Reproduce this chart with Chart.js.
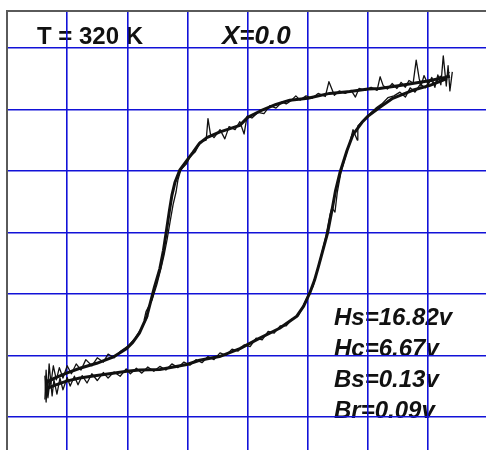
<!DOCTYPE html>
<html>
<head>
<meta charset="utf-8">
<script src="https://cdn.jsdelivr.net/npm/chart.js@4.4.1/dist/chart.umd.min.js"></script>
<style>
  html, body { margin: 0; padding: 0; background: #fff; }
  #wrap { width: 486px; height: 450px; position: relative; }
</style>
</head>
<body>
<div id="wrap"><canvas id="loop"></canvas></div>
<script>
// field H (x) and induction B (y), in screen divisions
const upperH = [3.36, 3.28, 2.99, 2.53, 2.19, 2.00, 1.70, 1.36, 1.00, 0.70, 0.47, 0.20, 0.00, -0.13, -0.47, -0.68, -0.80, -0.91, -1.01, -1.13, -1.21, -1.26, -1.30, -1.35, -1.40, -1.46, -1.55, -1.63, -1.68, -1.80, -1.91, -2.01, -2.24, -2.51, -2.79, -3.01, -3.21, -3.34];
const upperB = [2.54, 2.52, 2.46, 2.39, 2.34, 2.33, 2.29, 2.26, 2.18, 2.15, 2.08, 1.97, 1.87, 1.74, 1.63, 1.54, 1.45, 1.30, 1.17, 1.01, 0.81, 0.60, 0.36, 0.03, -0.29, -0.59, -0.89, -1.19, -1.38, -1.64, -1.79, -1.89, -2.03, -2.13, -2.21, -2.29, -2.37, -2.44];

const lowerH = [-3.34, -3.21, -3.01, -2.79, -2.51, -2.24, -2.01, -1.80, -1.46, -1.01, -0.80, -0.47, -0.13, 0.20, 0.53, 0.81, 0.93, 1.03, 1.11, 1.18, 1.25, 1.33, 1.40, 1.46, 1.53, 1.65, 1.75, 1.90, 2.00, 2.19, 2.41, 2.74, 3.03, 3.31];
const lowerB = [-2.54, -2.49, -2.42, -2.37, -2.33, -2.29, -2.26, -2.24, -2.23, -2.15, -2.08, -2.02, -1.89, -1.72, -1.56, -1.37, -1.20, -0.99, -0.78, -0.54, -0.29, 0.00, 0.36, 0.68, 0.96, 1.33, 1.59, 1.79, 1.89, 2.03, 2.18, 2.31, 2.39, 2.50];

// second sweep, noisier
const upperNoiseH = [3.40, 3.36, 3.33, 3.30, 3.25, 3.21, 3.16, 3.11, 3.06, 3.00, 2.93, 2.88, 2.85, 2.80, 2.75, 2.68, 2.62, 2.55, 2.48, 2.40, 2.32, 2.25, 2.20, 2.15, 2.05, 1.95, 1.85, 1.79, 1.72, 1.62, 1.52, 1.44, 1.35, 1.29, 1.17, 1.07, 0.97, 0.87, 0.80, 0.72, 0.64, 0.57, 0.47, 0.37, 0.27, 0.17, 0.07, -0.01, -0.06, -0.13, -0.21, -0.31, -0.38, -0.46, -0.56, -0.62, -0.66, -0.69, -0.79, -0.87, -0.96, -1.02, -1.11, -1.16, -1.19, -1.24, -1.29, -1.34, -1.39, -1.44, -1.51, -1.59, -1.69, -1.72, -1.66, -1.76, -1.87, -1.99, -2.12, -2.22, -2.32, -2.40, -2.50, -2.59, -2.69, -2.77, -2.85, -2.93, -3.00, -3.07, -3.13, -3.18, -3.23, -3.27, -3.30, -3.33, -3.35, -3.37];
const upperNoiseB = [2.61, 2.30, 2.71, 2.38, 2.87, 2.40, 2.56, 2.36, 2.52, 2.40, 2.55, 2.38, 2.50, 2.80, 2.43, 2.47, 2.36, 2.44, 2.34, 2.42, 2.33, 2.39, 2.53, 2.31, 2.36, 2.31, 2.34, 2.20, 2.31, 2.26, 2.30, 2.23, 2.45, 2.21, 2.26, 2.18, 2.22, 2.15, 2.22, 2.14, 2.09, 2.12, 2.02, 2.06, 1.93, 1.95, 1.86, 1.89, 1.60, 1.80, 1.67, 1.72, 1.52, 1.67, 1.54, 1.60, 1.85, 1.50, 1.47, 1.31, 1.23, 1.11, 1.02, 0.85, 0.66, 0.45, 0.17, -0.12, -0.37, -0.58, -0.85, -1.10, -1.29, -1.42, -1.36, -1.55, -1.72, -1.85, -1.94, -2.04, -1.98, -2.11, -2.04, -2.17, -2.07, -2.24, -2.14, -2.30, -2.17, -2.37, -2.20, -2.40, -2.17, -2.46, -2.14, -2.66, -2.24, -2.72];

const lowerNoiseH = [-3.37, -3.35, -3.33, -3.32, -3.28, -3.25, -3.22, -3.17, -3.12, -3.07, -3.00, -2.95, -2.88, -2.82, -2.75, -2.67, -2.59, -2.50, -2.40, -2.32, -2.22, -2.12, -2.02, -1.95, -1.85, -1.76, -1.66, -1.56, -1.46, -1.36, -1.26, -1.16, -1.06, -0.96, -0.86, -0.76, -0.66, -0.56, -0.46, -0.36, -0.26, -0.16, -0.06, 0.04, 0.14, 0.24, 0.34, 0.44, 0.54, 0.64, 0.74, 0.84, 0.92, 1.00, 1.09, 1.15, 1.22, 1.30, 1.37, 1.40, 1.45, 1.49, 1.55, 1.64, 1.70, 1.75, 1.82, 1.83, 1.93, 2.03, 2.13, 2.23, 2.33, 2.43, 2.53, 2.62, 2.70, 2.78, 2.87, 2.95, 3.03, 3.11, 3.20, 3.28, 3.35];
const lowerNoiseB = [-2.33, -2.76, -2.40, -2.69, -2.37, -2.66, -2.40, -2.63, -2.37, -2.56, -2.36, -2.50, -2.34, -2.48, -2.33, -2.45, -2.30, -2.41, -2.28, -2.37, -2.27, -2.34, -2.22, -2.30, -2.21, -2.29, -2.19, -2.26, -2.18, -2.24, -2.14, -2.20, -2.11, -2.16, -2.07, -2.12, -2.02, -2.07, -1.96, -2.00, -1.90, -1.93, -1.83, -1.86, -1.72, -1.75, -1.61, -1.64, -1.52, -1.52, -1.41, -1.36, -1.20, -1.03, -0.87, -0.64, -0.38, -0.06, 0.30, 0.40, 0.33, 0.66, 0.98, 1.28, 1.47, 1.67, 1.50, 1.73, 1.83, 1.93, 2.02, 2.09, 2.19, 2.22, 2.28, 2.20, 2.35, 2.28, 2.41, 2.35, 2.48, 2.41, 2.54, 2.48, 2.61];

const titleText = 'T = 320 K';
const sampleText = 'X=0.0';
const readings = ['Hs=16.82v', 'Hc=6.67v', 'Bs=0.13v', 'Br=0.09v'];

function toPoints(xs, ys) {
  return xs.map((x, i) => ({ x: x, y: ys[i] }));
}

function trace(xs, ys, width) {
  return {
    data: toPoints(xs, ys),
    showLine: true,
    borderColor: '#111',
    borderWidth: width,
    pointRadius: 0,
    tension: 0,
    borderJoinStyle: 'round'
  };
}

// keep only whole-division grid lines
function wholeTicks(scale) {
  scale.ticks = scale.ticks.filter((t) => Number.isInteger(t.value) && t.value > scale.min && t.value < scale.max);
}

// the labels sit under the grid, so draw them before the scales
const labelPlugin = {
  id: 'scopeLabels',
  beforeDraw(chart) {
    const ctx = chart.ctx;
    ctx.save();
    ctx.fillStyle = '#111';
    ctx.textBaseline = 'alphabetic';
    ctx.font = 'bold 24px "Liberation Sans", Arial, sans-serif';
    ctx.fillText(titleText, 37, 44);
    ctx.font = 'italic bold 26px "Liberation Sans", Arial, sans-serif';
    ctx.fillText(sampleText, 222, 44);
    ctx.font = 'italic bold 24px "Liberation Sans", Arial, sans-serif';
    readings.forEach((t, i) => {
      ctx.fillText(t, 334, 325 + i * 31);
    });
    ctx.restore();
  }
};

const gridStyle = { color: '#1212d8', lineWidth: 1.6, drawTicks: false };
const borderStyle = { color: '#5a5a5a', width: 2 };

new Chart(document.getElementById('loop'), {
  type: 'scatter',
  data: {
    datasets: [
      trace(upperNoiseH, upperNoiseB, 1.3),
      trace(lowerNoiseH, lowerNoiseB, 1.3),
      trace(upperH, upperB, 3),
      trace(lowerH, lowerB, 3)
    ]
  },
  options: {
    responsive: true,
    maintainAspectRatio: false,
    animation: false,
    layout: { padding: { left: 7, top: 11, right: 0, bottom: 0 } },
    scales: {
      x: {
        type: 'linear',
        position: 'top',
        min: -4,
        max: 3.96,
        afterBuildTicks: wholeTicks,
        ticks: { display: false, stepSize: 1 },
        grid: gridStyle,
        border: borderStyle
      },
      y: {
        type: 'linear',
        position: 'left',
        min: -3.54,
        max: 3.6,
        afterBuildTicks: wholeTicks,
        ticks: { display: false, stepSize: 1 },
        grid: gridStyle,
        border: borderStyle
      }
    },
    plugins: {
      legend: { display: false },
      tooltip: { enabled: false }
    }
  },
  plugins: [labelPlugin]
});
</script>
</body>
</html>
